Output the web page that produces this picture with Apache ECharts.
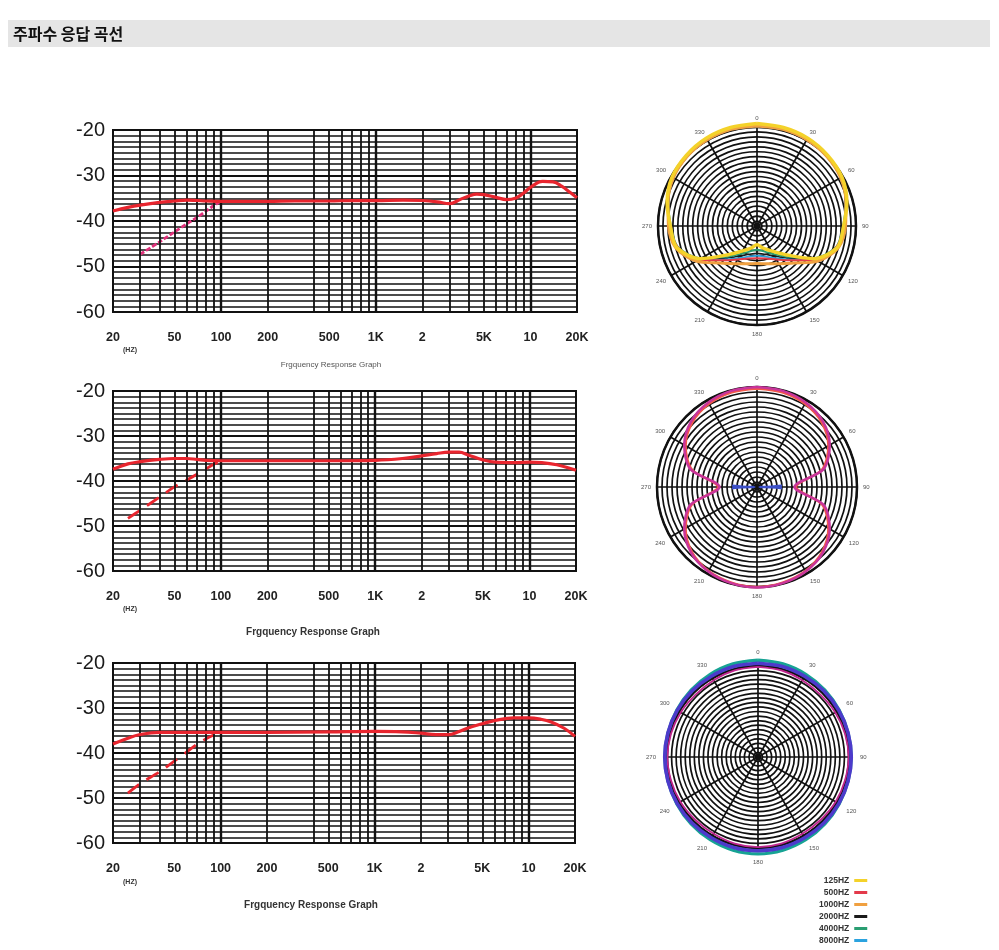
<!DOCTYPE html>
<html><head><meta charset="utf-8">
<script src="https://cdn.jsdelivr.net/npm/echarts@6/dist/echarts.min.js"></script>
<style>html,body{margin:0;padding:0;background:#fff}#c{width:999px;height:950px}</style>
</head><body><div id="c"></div>
<script>
// ---------- axis data ----------
const gridFreqs = [20,30,40,50,60,70,80,90,100,200,400,500,600,700,800,900,1000,2000,3000,4000,5000,6000,7000,8000,9000,10000,20000];
const tickFreqs = [20,50,100,200,500,1000,2000,5000,10000,20000];
const tickLabels = ['20','50','100','200','500','1K','2','5K','10','20K'];

// ---------- frequency response 1 ----------
const fr1Freq  = [20,25,30,40,50,60,70,80,100,150,200,300,500,700,1000,1500,2000,2500,3000,3500,4000,4500,5000,6000,7000,8000,9000,10000,12000,14000,16000,18000,20000];
const fr1Level = [-37.8,-37.0,-36.5,-35.9,-35.6,-35.4,-35.5,-35.6,-35.7,-35.7,-35.7,-35.6,-35.6,-35.5,-35.5,-35.4,-35.5,-35.8,-36.2,-35.3,-34.5,-34.1,-34.2,-34.8,-35.3,-35.0,-33.9,-32.6,-31.3,-31.4,-32.4,-33.7,-34.9];
const fr1LowFreq  = [30,40,50,60,70,80,90,100];
const fr1LowLevel = [-47.3,-44.6,-42.4,-40.6,-39.2,-37.8,-36.6,-35.6];

// ---------- frequency response 2 ----------
const fr2Freq  = [20,25,30,40,50,60,70,80,100,200,500,1000,1500,2000,2500,3000,3500,4000,5000,6000,8000,10000,12000,15000,20000];
const fr2Level = [-37.4,-36.2,-35.7,-35.2,-35.0,-35.0,-35.2,-35.4,-35.5,-35.5,-35.5,-35.4,-35.0,-34.4,-33.9,-33.6,-33.6,-34.2,-35.3,-35.8,-35.9,-35.8,-35.9,-36.4,-37.6];
const fr2LowFreq  = [25,30,40,50,60,70,80,90,100];
const fr2LowLevel = [-48.3,-46.5,-43.6,-41.3,-39.8,-38.5,-37.3,-36.3,-35.5];

// ---------- frequency response 3 ----------
const fr3Freq  = [20,25,30,40,50,100,200,500,1000,1500,2000,2500,3000,3500,4000,5000,6000,8000,10000,12000,14000,17000,20000];
const fr3Level = [-38.0,-36.7,-35.9,-35.4,-35.4,-35.4,-35.4,-35.3,-35.2,-35.3,-35.6,-35.9,-35.9,-35.3,-34.5,-33.5,-32.8,-32.2,-32.2,-32.5,-33.1,-34.5,-36.3];
const fr3LowFreq  = [25,30,40,50,60,70,80,90];
const fr3LowLevel = [-48.9,-46.8,-44.2,-41.8,-39.8,-38.1,-36.9,-36.0];

// ---------- polar patterns (ring units, outer ring = 20) ----------
const polarAngles = [0,15,30,45,60,75,90,105,120,135,150,165,180,195,210,225,240,255,270,285,300,315,330,345,360];
const legendNames = ['125HZ','500HZ','1000HZ','2000HZ','4000HZ','8000HZ'];
// cardioid
const p1Hz125  = [20.7,20.6,20.5,20.2,19.8,18.8,17.5,16.8,13.2,8.2,5.8,4.6,3.8,4.6,5.8,8.2,13.2,16.8,17.5,18.8,19.8,20.2,20.5,20.6,20.7];
const p1Hz500  = [20.3,20.3,20.2,20.0,19.6,18.6,17.6,16.6,13.6,9.8,7.8,6.8,6.5,6.8,7.8,9.8,13.6,16.6,17.6,18.6,19.6,20.0,20.2,20.3,20.3];
const p1Hz1000 = [20.2,20.2,20.1,19.9,19.5,18.6,17.9,17.0,14.2,10.6,8.8,7.9,7.6,7.9,8.8,10.6,14.2,17.0,17.9,18.6,19.5,19.9,20.1,20.2,20.2];
const p1Hz2000 = [20.2,20.2,20.1,19.9,19.5,18.5,17.6,16.7,13.4,9.2,7.0,5.9,5.5,5.9,7.0,9.2,13.4,16.7,17.6,18.5,19.5,19.9,20.1,20.2,20.2];
const p1Hz4000 = [20.3,20.3,20.2,19.9,19.5,18.5,17.4,16.5,13.0,8.8,6.5,5.3,4.8,5.3,6.5,8.8,13.0,16.5,17.4,18.5,19.5,19.9,20.2,20.3,20.3];
const p1Hz8000 = [20.2,20.2,20.1,19.9,19.5,18.6,17.7,16.8,13.8,9.6,7.5,6.4,6.0,6.4,7.5,9.6,13.8,16.8,17.7,18.6,19.5,19.9,20.1,20.2,20.2];
// figure-8
const p2A = [20.0,19.9,19.5,18.6,16.8,13.8,7.5,13.8,16.8,18.6,19.5,19.9,20.1,19.9,19.5,18.6,16.8,13.8,7.5,13.8,16.8,18.6,19.5,19.9,20.0];
const p2B = [19.7,19.6,19.2,18.3,16.5,13.5,7.8,13.5,16.5,18.4,19.4,19.8,20.0,19.8,19.4,18.4,16.5,13.5,7.8,13.5,16.5,18.3,19.2,19.6,19.7];
const p2NullAngles = [87,88.5,90,91.5,93];
const p2NullR = [5,3,0.5,3,5];
const p2NullAngles2 = [267,268.5,270,271.5,273];
// omni
const p3Teal   = [21.3,21.2,21.0,20.8,20.6,20.5,20.5,20.5,20.6,20.8,21.0,21.2,21.3,21.2,21.0,20.8,20.6,20.5,20.5,20.5,20.6,20.8,21.0,21.2,21.3];
const p3Purple = [20.6,20.6,20.5,20.5,20.5,20.5,20.5,20.5,20.5,20.5,20.5,20.6,20.6,20.6,20.5,20.5,20.5,20.5,20.5,20.5,20.5,20.5,20.5,20.6,20.6];
const p3Mag    = [19.8,19.7,19.5,19.4,19.6,19.8,19.9,19.8,19.7,19.5,19.5,19.7,19.8,19.7,19.5,19.5,19.7,19.8,19.9,19.8,19.6,19.4,19.5,19.7,19.8];

// ---------- build ----------
const FONT = '"Liberation Sans", Arial, sans-serif';
const zip = (a, b) => a.map((v, i) => [v, b[i]]);
const polarData = r => r.map((v, i) => [v, polarAngles[i]]);

const grids = [
  {left:113, top:130, width:464, height:182},
  {left:113, top:391, width:463, height:180},
  {left:113, top:663, width:462, height:180}
].map(g => Object.assign(g, {show:true, borderColor:'#111', borderWidth:2, backgroundColor:'transparent'}));

const xAxes = grids.map((g, i) => ({
  type:'log', logBase:10, min:20, max:20000, gridIndex:i,
  axisLine:{show:false}, axisTick:{show:false}, axisLabel:{show:false}, splitLine:{show:false}
}));
const yAxes = grids.map((g, i) => ({
  type:'value', gridIndex:i, min:-60, max:-20, interval:10,
  axisLine:{show:false}, axisTick:{show:false},
  axisLabel:{fontSize:20, color:'#1a1a1a', margin:8, fontFamily:FONT},
  splitLine:{show:true, lineStyle:{color:'#111', width:2.2}},
  minorTick:{show:false, splitNumber:8},
  minorSplitLine:{show:true, lineStyle:{color:'#111', width:1.6}}
}));

function vLines() {
  return gridFreqs.map(f => {
    const k = tickFreqs.indexOf(f);
    const decade = [100,1000,10000].indexOf(f) >= 0;
    return {
      xAxis: f,
      lineStyle:{color:'#111', width: decade ? 2.4 : 1.8, type:'solid'},
      label: k >= 0 ? {show:true, formatter: tickLabels[k]} : {show:false}
    };
  });
}

const series = [];
const frSets = [
  [fr1Freq, fr1Level, fr1LowFreq, fr1LowLevel, '#e0307a', [5,2]],
  [fr2Freq, fr2Level, fr2LowFreq, fr2LowLevel, '#e8252e', [14,9]],
  [fr3Freq, fr3Level, fr3LowFreq, fr3LowLevel, '#e8252e', [14,9]]
];
frSets.forEach((s, i) => {
  series.push({
    type:'line', xAxisIndex:i, yAxisIndex:i, data:[], z:1, silent:true,
    markLine:{
      silent:true, symbol:['none','none'], animation:false,
      label:{position:'start', distance:19, fontSize:12.5, fontWeight:'bold', color:'#222', fontFamily:FONT},
      data: vLines()
    }
  });
  series.push({
    type:'line', xAxisIndex:i, yAxisIndex:i, data: zip(s[2], s[3]), smooth:0.3, showSymbol:false, z:4,
    lineStyle:{color:s[4], width:2.8, type:s[5]}, itemStyle:{color:s[4]}
  });
  series.push({
    type:'line', xAxisIndex:i, yAxisIndex:i, data: zip(s[0], s[1]), smooth:0.4, showSymbol:false, z:5,
    lineStyle:{color:'#e8252e', width:3.2}, itemStyle:{color:'#e8252e'}
  });
});

// polar grids (0..2) draw the rings; matching data polars (3..5) are 10% larger with max 22
const RING_MAX = 20, DATA_MAX = 22;
const polarCenters = [[757,226],[757,487],[758,757]];
const polarRadii = [99, 100, 91];

function pol(name, k, vals, color, width, z) {
  return {
    name, type:'line', coordinateSystem:'polar', polarIndex:k + 3, data: polarData(vals),
    smooth:0.3, showSymbol:false, clip:false, z:z || 3,
    lineStyle:{color, width}, itemStyle:{color}
  };
}
function polSeg(name, k, rs, angs, color, width) {
  return {
    name, type:'line', coordinateSystem:'polar', polarIndex:k + 3, data: rs.map((r, i) => [r, angs[i]]),
    smooth:0.3, showSymbol:false, clip:false, z:3,
    lineStyle:{color, width}, itemStyle:{color}
  };
}
series.push(
  pol('2000HZ', 0, p1Hz2000, '#1a1a1a', 1.6),
  pol('8000HZ', 0, p1Hz8000, '#2ba3df', 1.8),
  pol('4000HZ', 0, p1Hz4000, '#2a9e72', 1.8),
  pol('500HZ', 0, p1Hz500, '#e33a4a', 2),
  pol('1000HZ', 0, p1Hz1000, '#f0a040', 3),
  pol('125HZ', 0, p1Hz125, '#f4d22a', 3.5, 4),
  polSeg('fig8-null-r', 1, p2NullR, p2NullAngles, '#3b4fc8', 2.2),
  polSeg('fig8-null-l', 1, p2NullR, p2NullAngles2, '#3b4fc8', 2.2),
  pol('fig8-orange', 1, p2B, '#f0584a', 2.5),
  pol('fig8-magenta', 1, p2A, '#c8359b', 2.5),
  pol('omni-magenta', 2, p3Mag, '#c0268f', 1.8),
  pol('omni-teal', 2, p3Teal, '#17a394', 3.2),
  pol('omni-purple', 2, p3Purple, '#4d3acb', 3.6, 4)
);

const polars = polarCenters.map((c, i) => ({center:c, radius:polarRadii[i]}))
  .concat(polarCenters.map((c, i) => ({center:c, radius:polarRadii[i] * DATA_MAX / RING_MAX})));

const angleAxes = polars.map((p, i) => i < 3 ? ({
  type:'value', polarIndex:i, min:0, max:360, interval:30, startAngle:90, clockwise:true,
  axisLine:{show:true, lineStyle:{color:'#111', width:2.5}},
  axisTick:{show:false},
  axisLabel:{fontSize:6, color:'#555', margin:i === 2 ? 11 : 6, fontFamily:FONT, formatter: v => v === 360 ? '' : String(v)},
  splitLine:{show:true, lineStyle:{color:'#111', width:1.7}}
}) : ({
  type:'value', polarIndex:i, min:0, max:360, interval:30, startAngle:90, clockwise:true,
  axisLine:{show:false}, axisTick:{show:false}, axisLabel:{show:false}, splitLine:{show:false}
}));
const radiusAxes = polars.map((p, i) => i < 3 ? ({
  type:'value', polarIndex:i, min:0, max:RING_MAX, interval:1,
  axisLine:{show:false}, axisTick:{show:false}, axisLabel:{show:false},
  splitLine:{show:true, lineStyle:{color:'#111', width:1.7}}
}) : ({
  type:'value', polarIndex:i, min:0, max:DATA_MAX, interval:1,
  axisLine:{show:false}, axisTick:{show:false}, axisLabel:{show:false}, splitLine:{show:false}
}));

const chart = echarts.init(document.getElementById('c'), null, {renderer:'canvas'});
chart.setOption({
  animation:false,
  backgroundColor:'#fff',
  grid: grids, xAxis: xAxes, yAxis: yAxes,
  polar: polars, angleAxis: angleAxes, radiusAxis: radiusAxes,
  legend:{
    data: legendNames, orient:'vertical', left:814, top:871, align:'right',
    icon:'rect', itemWidth:13, itemHeight:3, itemGap:3, selectedMode:false,
    textStyle:{fontSize:8.5, fontWeight:'bold', color:'#333', fontFamily:FONT},
    itemStyle:{borderWidth:0}
  },
  graphic:[
    {type:'rect', shape:{x:8, y:20, width:982, height:27}, style:{fill:'#e5e5e5'}, z:-10},
    {type:'text', x:13, y:34, style:{text:'주파수 응답 곡선', fill:'#111', font:'bold 16px "Noto Sans CJK KR"', verticalAlign:'middle'}},
    {type:'text', x:130, y:350, style:{text:'(HZ)', fill:'#333', font:'bold 7px ' + FONT, align:'center', verticalAlign:'middle'}},
    {type:'text', x:130, y:609, style:{text:'(HZ)', fill:'#333', font:'bold 7px ' + FONT, align:'center', verticalAlign:'middle'}},
    {type:'text', x:130, y:882, style:{text:'(HZ)', fill:'#333', font:'bold 7px ' + FONT, align:'center', verticalAlign:'middle'}},
    {type:'text', x:331, y:365, style:{text:'Frgquency Response Graph', fill:'#555', font:'8px ' + FONT, align:'center', verticalAlign:'middle'}},
    {type:'text', x:313, y:632, style:{text:'Frgquency Response Graph', fill:'#333', font:'bold 10px ' + FONT, align:'center', verticalAlign:'middle'}},
    {type:'text', x:311, y:905, style:{text:'Frgquency Response Graph', fill:'#333', font:'bold 10px ' + FONT, align:'center', verticalAlign:'middle'}}
  ],
  series
});
</script></body></html>
